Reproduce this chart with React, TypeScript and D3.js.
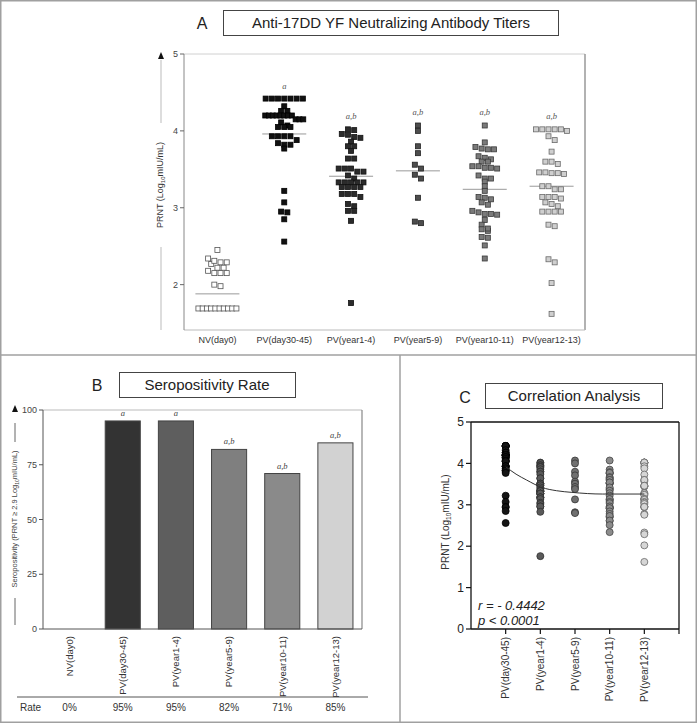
import React from "react";
import * as d3 from "d3";

// ---------- DATA ----------
const groupsA = ["NV(day0)", "PV(day30-45)", "PV(year1-4)", "PV(year5-9)", "PV(year10-11)", "PV(year12-13)"];

const nvDay0 = [2.45, 2.29, 2.29, 2.27, 2.31, 2.34, 2.22, 2.15, 2.15, 2.15, 2.18, 2.22, 2.0, 1.98,
  1.69, 1.69, 1.69, 1.69, 1.69, 1.69, 1.69, 1.69, 1.69, 1.69];
const pvDay30_45 = [4.42, 4.42, 4.42, 4.42, 4.42, 4.42, 4.42, 4.32, 4.26, 4.26,
  4.2, 4.2, 4.2, 4.2, 4.2, 4.2, 4.2, 4.2, 4.15, 4.15, 4.15, 4.11, 4.07, 4.05, 4.05, 4.05,
  3.93, 3.93, 3.93, 3.93, 3.88, 3.84, 3.82, 3.82, 3.77,
  3.22, 3.07, 2.95, 2.94, 2.85, 2.56];
const pvYear1_4 = [4.02, 4.01, 3.96, 3.95, 3.92, 3.91, 3.86, 3.8, 3.8, 3.74, 3.64, 3.64,
  3.51, 3.51, 3.51, 3.47, 3.47, 3.42, 3.38, 3.33, 3.33, 3.33, 3.33, 3.33,
  3.27, 3.27, 3.27, 3.27, 3.18, 3.18, 3.18, 3.14, 3.05, 3.02, 2.96, 2.96, 2.83, 1.76];
const pvYear5_9 = [4.07, 4.0, 3.8, 3.71, 3.56, 3.51, 3.43, 3.38, 3.13, 2.82, 2.8];
const pvYear10_11 = [4.07, 3.85, 3.79, 3.76, 3.76, 3.77, 3.67, 3.63, 3.65, 3.6, 3.6,
  3.54, 3.52, 3.51, 3.52, 3.54, 3.38, 3.38, 3.42, 3.34, 3.28, 3.22, 3.13, 3.11, 3.14,
  3.07, 3.04, 2.94, 2.92, 2.96, 2.91, 2.92, 2.84, 2.78, 2.72, 2.7, 2.73, 2.61, 2.62, 2.51, 2.34];
const pvYear12_13 = [4.02, 4.02, 4.02, 4.02, 4.0, 4.02, 3.93, 3.88, 3.73, 3.6, 3.57, 3.6,
  3.46, 3.45, 3.44, 3.45, 3.46, 3.28, 3.28, 3.24, 3.24, 3.14, 3.14, 3.14, 3.12,
  3.07, 3.05, 3.02, 2.95, 2.95, 2.95, 2.95, 2.78, 2.76, 2.33, 2.29, 2.02, 1.62];
const titersA = [nvDay0, pvDay30_45, pvYear1_4, pvYear5_9, pvYear10_11, pvYear12_13];
const mediansA = [1.88, 3.96, 3.41, 3.48, 3.24, 3.28];
const sigA = ["", "a", "a,b", "a,b", "a,b", "a,b"];
const yTicksA = [2, 3, 4, 5];

const seroRates = [0, 95, 95, 82, 71, 85];
const sigB = ["", "a", "a", "a,b", "a,b", "a,b"];
const rateLabels = ["0%", "95%", "95%", "82%", "71%", "85%"];
const yTicksB = [0, 25, 50, 75, 100];

const groupsC = ["PV(day30-45)", "PV(year1-4)", "PV(year5-9)", "PV(year10-11)", "PV(year12-13)"];
const titersC = [pvDay30_45, pvYear1_4, pvYear5_9, pvYear10_11, pvYear12_13];
const fitX = [1, 1.3, 1.6, 2.04, 2.47, 2.91, 3.8, 5];
const fitY = [3.92, 3.74, 3.6, 3.42, 3.34, 3.3, 3.26, 3.26];
const yTicksC = [0, 1, 2, 3, 4, 5];

// ---------- STYLES ----------
const fillA = ["#ffffff", "#111111", "#2b2b2b", "#4d4d4d", "#7a7a7a", "#cfcfcf"];
const strokeA = ["#555555", "#000000", "#111111", "#222222", "#3a3a3a", "#6a6a6a"];
const fillB = ["#ffffff", "#333333", "#5e5e5e", "#7f7f7f", "#8a8a8a", "#d2d2d2"];
const fillC = ["#151515", "#5a5a5a", "#707070", "#8c8c8c", "#d6d6d6"];
const strokeC = ["#000000", "#2e2e2e", "#333333", "#444444", "#666666"];
const FONT = "'Liberation Sans', Arial, sans-serif";

function swarm(values: number[], y: (v: number) => number, tol: number, step: number, maxW: number) {
  const idx = values.map((_, i) => i).sort((a, b) => values[b] - values[a]);
  const out = new Array(values.length).fill(0);
  let row: number[] = [];
  let rowY = 0;
  const flush = () => {
    const n = row.length;
    const s = n > 1 ? Math.min(step, maxW / (n - 1)) : step;
    row.forEach((k, j) => (out[k] = (j - (n - 1) / 2) * s));
  };
  for (const i of idx) {
    const yy = y(values[i]);
    if (row.length && Math.abs(yy - rowY) < tol) row.push(i);
    else {
      if (row.length) flush();
      row = [i];
      rowY = yy;
    }
  }
  if (row.length) flush();
  return out;
}

function PanelA() {
  const left = 184, right = 585, top = 54, bottom = 330;
  const y = d3.scaleLinear().domain([1.41, 5]).range([bottom, top]);
  const x = d3.scaleBand().domain(groupsA).range([left, right]);
  const sq = 5;
  return (
    <g>
      <text x={202} y={29} fontSize={16} fontFamily={FONT} textAnchor="middle" fill="#222">A</text>
      <rect x={223.5} y={10.5} width={335} height={25} fill="none" stroke="#444" strokeWidth={1} />
      <text x={391} y={28} fontSize={15} fontFamily={FONT} textAnchor="middle" fill="#222">Anti-17DD YF Neutralizing Antibody Titers</text>
      {/* frame */}
      <line x1={left} x2={right} y1={top} y2={top} stroke="#d0d0d0" />
      <line x1={right} x2={right} y1={top} y2={bottom} stroke="#999" strokeWidth={1.5} />
      <line x1={left} x2={right} y1={bottom} y2={bottom} stroke="#bbb" />
      <line x1={left} x2={left} y1={top} y2={bottom} stroke="#888" />
      {yTicksA.map((t) => (
        <g key={t}>
          <line x1={left - 4} x2={left} y1={y(t)} y2={y(t)} stroke="#666" />
          <text x={left - 6} y={y(t)} dy="0.35em" fontSize={9} fontFamily={FONT} textAnchor="end" fill="#444">{t}</text>
        </g>
      ))}
      {/* y label with arrow */}
      <path d="M161,52 L158,59 L164,59 Z" fill="#111" />
      <line x1={161} x2={161} y1={60} y2={123} stroke="#bbb" />
      <line x1={161} x2={161} y1={247} y2={330} stroke="#bbb" />
      <text transform="translate(163,185) rotate(-90)" fontSize={9} fontFamily={FONT} textAnchor="middle" fill="#333">
        PRNT (Log<tspan fontSize={6} dy={2}>10</tspan><tspan dy={-2}>mIU/mL)</tspan>
      </text>
      {groupsA.map((g, gi) => {
        const cx = (x(g) as number) + x.bandwidth() / 2;
        const vals = titersA[gi];
        const offs = swarm(vals, y, 4.6, 6.2, 38);
        const topV = d3.max(vals) as number;
        return (
          <g key={g}>
            <line x1={cx - 22} x2={cx + 22} y1={y(mediansA[gi])} y2={y(mediansA[gi])} stroke="#999" strokeWidth={1} />
            {vals.map((v, i) => (
              <rect key={i} x={cx + offs[i] - sq / 2} y={y(v) - sq / 2} width={sq} height={sq}
                fill={fillA[gi]} stroke={strokeA[gi]} strokeWidth={0.8} />
            ))}
            {sigA[gi] && (
              <text x={cx} y={y(topV) - 10} fontSize={8.5} fontFamily="'Liberation Serif', serif" fontStyle="italic" textAnchor="middle" fill="#555">{sigA[gi]}</text>
            )}
            <text x={cx} y={343} fontSize={9} fontFamily={FONT} textAnchor="middle" fill="#333">{g}</text>
          </g>
        );
      })}
    </g>
  );
}

function PanelB() {
  const left = 43, right = 362, top = 410, bottom = 629;
  const y = d3.scaleLinear().domain([0, 100]).range([bottom, top]);
  const x = d3.scaleBand().domain(groupsA).range([left, right]).paddingInner(0.34).paddingOuter(0.17);
  return (
    <g>
      <text x={97} y={391} fontSize={16} fontFamily={FONT} textAnchor="middle" fill="#222">B</text>
      <rect x={119.5} y={372.5} width={176} height={25} fill="none" stroke="#444" />
      <text x={207} y={390} fontSize={15} fontFamily={FONT} textAnchor="middle" fill="#222">Seropositivity Rate</text>
      <line x1={left} x2={right} y1={top} y2={top} stroke="#bbb" />
      <line x1={right} x2={right} y1={top} y2={bottom} stroke="#888" strokeWidth={1.2} />
      {groupsA.map((g, gi) => {
        const bx = x(g) as number;
        const cx = bx + x.bandwidth() / 2;
        return (
          <g key={g}>
            {seroRates[gi] > 0 && (
              <rect x={bx} y={y(seroRates[gi])} width={x.bandwidth()} height={bottom - y(seroRates[gi])}
                fill={fillB[gi]} stroke="#444" strokeWidth={1} />
            )}
            {sigB[gi] && (
              <text x={cx} y={y(seroRates[gi]) - 5} fontSize={8.5} fontFamily="'Liberation Serif', serif" fontStyle="italic" textAnchor="middle" fill="#444">{sigB[gi]}</text>
            )}
            <text transform={`translate(${cx},${636}) rotate(-90)`} dy="0.35em" fontSize={9.5} fontFamily={FONT} textAnchor="end" fill="#333">{g}</text>
            <text x={cx} y={711} fontSize={10} fontFamily={FONT} textAnchor="middle" fill="#333">{rateLabels[gi]}</text>
          </g>
        );
      })}
      <line x1={left} x2={left} y1={top} y2={bottom} stroke="#555" />
      <line x1={left} x2={right} y1={bottom} y2={bottom} stroke="#555" />
      {yTicksB.map((t) => (
        <g key={t}>
          <line x1={left - 4} x2={left} y1={y(t)} y2={y(t)} stroke="#555" />
          <text x={left - 6} y={y(t)} dy="0.35em" fontSize={9} fontFamily={FONT} textAnchor="end" fill="#444">{t}</text>
        </g>
      ))}
      <path d="M15,405 L12,412 L18,412 Z" fill="#111" />
      <line x1={15} x2={15} y1={423} y2={442} stroke="#666" />
      <line x1={15} x2={15} y1={598} y2={625} stroke="#666" />
      <text transform="translate(17,519) rotate(-90)" fontSize={7.5} fontFamily={FONT} textAnchor="middle" fill="#444">
        Seropositivity (PRNT ≥ 2.9 Log<tspan fontSize={5} dy={2}>10</tspan><tspan dy={-2}>mIU/mL)</tspan>
      </text>
      <line x1={17} x2={368} y1={697} y2={697} stroke="#555" />
      <text x={20} y={711} fontSize={10} fontFamily={FONT} fill="#333">Rate</text>
    </g>
  );
}

function PanelC() {
  const left = 471, right = 679, top = 422, bottom = 629;
  const y = d3.scaleLinear().domain([0, 5]).range([bottom, top]);
  const x = d3.scaleLinear().domain([0, 6]).range([left, right]);
  const fitPts = fitX.map((v, i) => [v, fitY[i]] as [number, number]);
  const line = d3.line<[number, number]>().x((d) => x(d[0])).y((d) => y(d[1])).curve(d3.curveMonotoneX);
  return (
    <g>
      <text x={465} y={403} fontSize={16} fontFamily={FONT} textAnchor="middle" fill="#222">C</text>
      <rect x={485.5} y={383.5} width={177} height={25} fill="none" stroke="#444" />
      <text x={574} y={401} fontSize={15} fontFamily={FONT} textAnchor="middle" fill="#222">Correlation Analysis</text>
      <line x1={left} x2={right} y1={top} y2={top} stroke="#111" strokeWidth={1.3} />
      <line x1={right} x2={right} y1={top} y2={bottom} stroke="#111" strokeWidth={1.3} />
      <line x1={left} x2={right} y1={bottom} y2={bottom} stroke="#111" strokeWidth={1.3} />
      <line x1={left} x2={left} y1={top} y2={bottom} stroke="#111" strokeWidth={1.3} />
      {yTicksC.map((t) => (
        <g key={t}>
          <line x1={left - 5} x2={left} y1={y(t)} y2={y(t)} stroke="#111" strokeWidth={1.2} />
          <text x={left - 7} y={y(t)} dy="0.35em" fontSize={12} fontFamily={FONT} textAnchor="end" fill="#222">{t}</text>
        </g>
      ))}
      <line x1={right} x2={right} y1={bottom} y2={bottom + 5} stroke="#111" strokeWidth={1.2} />
      {groupsC.map((g, gi) => {
        const cx = x(gi + 1);
        return (
          <g key={g}>
            <line x1={cx} x2={cx} y1={bottom} y2={bottom + 5} stroke="#111" strokeWidth={1.2} />
            {titersC[gi].map((v, i) => (
              <circle key={i} cx={cx} cy={y(v)} r={3.5} fill={fillC[gi]} stroke={strokeC[gi]} strokeWidth={0.8} />
            ))}
            <text transform={`translate(${cx},${637}) rotate(-90)`} dy="0.35em" fontSize={10} fontFamily={FONT} textAnchor="end" fill="#333">{g}</text>
          </g>
        );
      })}
      <path d={line(fitPts) as string} fill="none" stroke="#333" strokeWidth={1} />
      <text transform="translate(449,522) rotate(-90)" fontSize={10} fontFamily={FONT} textAnchor="middle" fill="#333">
        PRNT (Log<tspan fontSize={6.5} dy={2}>10</tspan><tspan dy={-2}>mIU/mL)</tspan>
      </text>
      <text x={478} y={610} fontSize={13} fontStyle="italic" fontFamily={FONT} fill="#222">r = - 0.4442</text>
      <text x={478} y={625} fontSize={13} fontStyle="italic" fontFamily={FONT} fill="#222">p &lt; 0.0001</text>
    </g>
  );
}

export default function App() {
  return (
    <svg width={697} height={723} style={{ position: "absolute", left: 0, top: 0, background: "#fff" }}>
      <rect x={0} y={0} width={697} height={723} fill="#fff" />
      <PanelA />
      <PanelB />
      <PanelC />
      <rect x={0.75} y={0.75} width={695.5} height={721.5} fill="none" stroke="#a0a0a0" strokeWidth={1.5} />
      <line x1={0} x2={697} y1={355} y2={355} stroke="#a0a0a0" strokeWidth={1.5} />
      <line x1={400} x2={400} y1={355} y2={723} stroke="#a0a0a0" strokeWidth={1.5} />
    </svg>
  );
}
